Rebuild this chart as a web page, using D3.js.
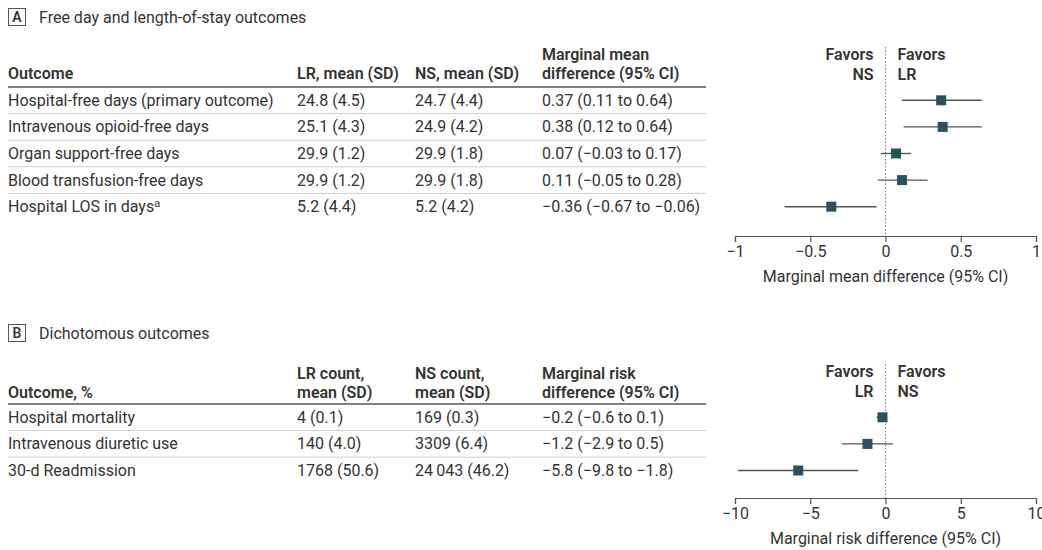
<!DOCTYPE html>
<html>
<head>
<meta charset="utf-8">
<script src="https://cdn.jsdelivr.net/npm/d3@7"></script>
<style>
  body { margin: 0; background: #fff; }
  svg text { font-family: Roboto, "Noto Sans", sans-serif; fill: #333; }
  .hdr { font-weight: 600; }
  .axis text { font-size: 16px; fill: #333; }
  .axis path, .axis line { stroke: #555; stroke-width: 1.2; }
</style>
</head>
<body>
<div id="chart"></div>
<script>
// Panel A: free day and length-of-stay outcomes
const outcomesA = ["Hospital-free days (primary outcome)", "Intravenous opioid-free days",
  "Organ support-free days", "Blood transfusion-free days", "Hospital LOS in days"];
const lrA = ["24.8 (4.5)", "25.1 (4.3)", "29.9 (1.2)", "29.9 (1.2)", "5.2 (4.4)"];
const nsA = ["24.7 (4.4)", "24.9 (4.2)", "29.9 (1.8)", "29.9 (1.8)", "5.2 (4.2)"];
const diffTextA = ["0.37 (0.11 to 0.64)", "0.38 (0.12 to 0.64)", "0.07 (−0.03 to 0.17)",
  "0.11 (−0.05 to 0.28)", "−0.36 (−0.67 to −0.06)"];
const estA = [0.37, 0.38, 0.07, 0.11, -0.36];
const lowA = [0.11, 0.12, -0.03, -0.05, -0.67];
const highA = [0.64, 0.64, 0.17, 0.28, -0.06];
const ticksA = [-1, -0.5, 0, 0.5, 1];

// Panel B: dichotomous outcomes
const outcomesB = ["Hospital mortality", "Intravenous diuretic use", "30-d Readmission"];
const lrB = ["4 (0.1)", "140 (4.0)", "1768 (50.6)"];
const nsB = ["169 (0.3)", "3309 (6.4)", "24\u2009043 (46.2)"];
const diffTextB = ["−0.2 (−0.6 to 0.1)", "−1.2 (−2.9 to 0.5)", "−5.8 (−9.8 to −1.8)"];
const estB = [-0.2, -1.2, -5.8];
const lowB = [-0.6, -2.9, -9.8];
const highB = [0.1, 0.5, -1.8];
const ticksB = [-10, -5, 0, 5, 10];

const width = 1042, height = 550;
const fs = "16px";
const cols = {outcome: 8, lr: 297, ns: 415, diff: 542};
const tableRight = 706;
const plotLeft = 735, plotRight = 1036;

const svg = d3.select("#chart").append("svg")
  .attr("width", width)
  .attr("height", height);

function panel(cfg) {
  const g = svg.append("g");

  // Panel letter box and title
  g.append("rect")
    .attr("x", 8.5).attr("y", cfg.top - 8.5)
    .attr("width", 17).attr("height", 17)
    .attr("fill", "none").attr("stroke", "#555").attr("stroke-width", 1);
  g.append("text")
    .attr("x", 17).attr("y", cfg.top + 5)
    .attr("text-anchor", "middle")
    .attr("class", "hdr")
    .style("font-size", "14px")
    .text(cfg.letter);
  g.append("text")
    .attr("x", 39).attr("y", cfg.top + 5.5)
    .style("font-size", fs)
    .text(cfg.title);

  // Column headers (array of lines per column, bottom aligned)
  cfg.headers.forEach(h => {
    h.lines.forEach((line, i) => {
      g.append("text")
        .attr("class", "hdr")
        .attr("x", h.x)
        .attr("y", cfg.headerBase - (h.lines.length - 1 - i) * 19.5)
        .style("font-size", fs)
        .text(line);
    });
  });

  const n = cfg.outcomes.length;
  const y = d3.scaleBand()
    .domain(d3.range(n))
    .range([cfg.rowTop, cfg.rowTop + n * cfg.rowH]);

  // header rule and row separators
  g.append("line")
    .attr("x1", 8).attr("x2", tableRight)
    .attr("y1", cfg.rowTop).attr("y2", cfg.rowTop)
    .attr("stroke", "#555").attr("stroke-width", 1.6);
  g.selectAll(".sep").data(d3.range(1, n)).join("line")
    .attr("x1", 8).attr("x2", tableRight)
    .attr("y1", d => y(d)).attr("y2", d => y(d))
    .attr("stroke", "#ccc").attr("stroke-width", 1);

  const rowText = (arr, x) => {
    g.selectAll(null).data(arr).join("text")
      .attr("x", x)
      .attr("y", (d, i) => y(i) + y.bandwidth() / 2 + 5.5)
      .style("font-size", fs)
      .text(d => d);
  };
  const outTexts = g.selectAll(null).data(cfg.outcomes).join("text")
    .attr("x", cols.outcome)
    .attr("y", (d, i) => y(i) + y.bandwidth() / 2 + 5.5)
    .style("font-size", fs)
    .text(d => d);
  if (cfg.supIndex != null) {
    outTexts.filter((d, i) => i === cfg.supIndex)
      .append("tspan")
      .attr("dy", -5)
      .style("font-size", "11px")
      .text("a");
  }
  rowText(cfg.lr, cols.lr);
  rowText(cfg.ns, cols.ns);
  rowText(cfg.diffText, cols.diff);

  // Forest plot
  const x = d3.scaleLinear().domain(cfg.domain).range([plotLeft, plotRight]);
  const axisY = cfg.axisY;

  g.append("line")
    .attr("x1", x(0)).attr("x2", x(0))
    .attr("y1", cfg.favorsTop).attr("y2", axisY)
    .attr("stroke", "#777").attr("stroke-width", 1)
    .attr("stroke-dasharray", "1.5,2");

  cfg.favors.forEach((side, si) => {
    side.forEach((word, i) => {
      g.append("text")
        .attr("class", "hdr")
        .attr("x", si === 0 ? x(0) - 12 : x(0) + 12)
        .attr("y", cfg.favorsTop + 13 + i * 20)
        .attr("text-anchor", si === 0 ? "end" : "start")
        .style("font-size", fs)
        .text(word);
    });
  });

  const pts = cfg.est.map((e, i) => ({e, lo: cfg.low[i], hi: cfg.high[i], i}));
  g.selectAll(".ci").data(pts).join("line")
    .attr("x1", d => x(d.lo)).attr("x2", d => x(d.hi))
    .attr("y1", d => y(d.i) + y.bandwidth() / 2)
    .attr("y2", d => y(d.i) + y.bandwidth() / 2)
    .attr("stroke", "#555").attr("stroke-width", 1.4);
  const s = 10;
  g.selectAll(".pt").data(pts).join("rect")
    .attr("x", d => x(d.e) - s / 2)
    .attr("y", d => y(d.i) + y.bandwidth() / 2 - s / 2)
    .attr("width", s).attr("height", s)
    .attr("fill", "#2b5060");

  const fmt = d3.format("~g");
  g.append("g")
    .attr("class", "axis")
    .attr("transform", `translate(0,${axisY})`)
    .call(d3.axisBottom(x).tickValues(cfg.ticks).tickFormat(d => fmt(d))
      .tickSize(6).tickSizeOuter(6).tickPadding(4))
    .selectAll("text").style("font-family", "Roboto, sans-serif");

  g.append("text")
    .attr("x", (plotLeft + plotRight) / 2)
    .attr("y", axisY + 46)
    .attr("text-anchor", "middle")
    .style("font-size", fs)
    .text(cfg.axisTitle);
}

panel({
  letter: "A", title: "Free day and length-of-stay outcomes", top: 17,
  headers: [
    {x: cols.outcome, lines: ["Outcome"]},
    {x: cols.lr, lines: ["LR, mean (SD)"]},
    {x: cols.ns, lines: ["NS, mean (SD)"]},
    {x: cols.diff, lines: ["Marginal mean", "difference (95% CI)"]}
  ],
  headerBase: 79,
  rowTop: 87, rowH: 26.6,
  outcomes: outcomesA, lr: lrA, ns: nsA, diffText: diffTextA, supIndex: 4,
  est: estA, low: lowA, high: highA,
  domain: [-1, 1], ticks: ticksA,
  favors: [["Favors", "NS"], ["Favors", "LR"]], favorsTop: 47,
  axisY: 236,
  axisTitle: "Marginal mean difference (95% CI)"
});

panel({
  letter: "B", title: "Dichotomous outcomes", top: 333,
  headers: [
    {x: cols.outcome, lines: ["Outcome, %"]},
    {x: cols.lr, lines: ["LR count,", "mean (SD)"]},
    {x: cols.ns, lines: ["NS count,", "mean (SD)"]},
    {x: cols.diff, lines: ["Marginal risk", "difference (95% CI)"]}
  ],
  headerBase: 398,
  rowTop: 404, rowH: 26.6,
  outcomes: outcomesB, lr: lrB, ns: nsB, diffText: diffTextB, supIndex: null,
  est: estB, low: lowB, high: highB,
  domain: [-10, 10], ticks: ticksB,
  favors: [["Favors", "LR"], ["Favors", "NS"]], favorsTop: 364,
  axisY: 498,
  axisTitle: "Marginal risk difference (95% CI)"
});
</script>
</body>
</html>
